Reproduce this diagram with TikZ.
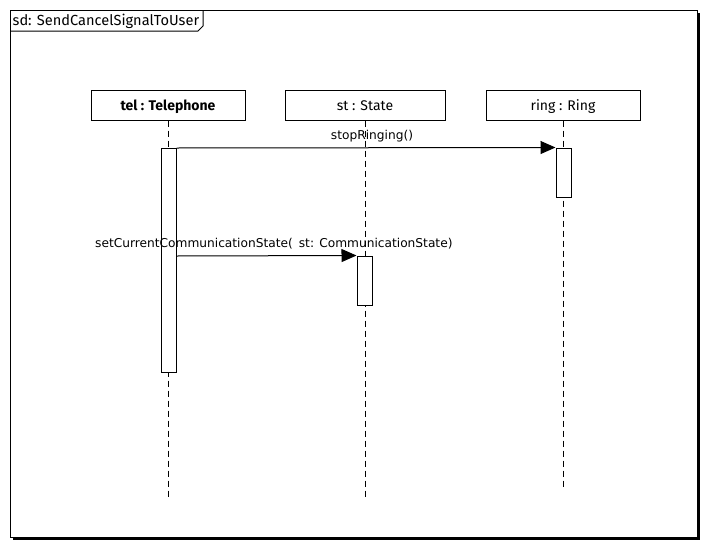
\documentclass[tikz,border=0pt]{standalone}
\usepackage{fontspec}
\setmainfont{DejaVu Sans}
\newfontfamily\headfont{Fira Sans}
\usetikzlibrary{arrows.meta}
\newcommand{\headtext}[1]{\raisebox{-5.5pt}[0pt][0pt]{#1}}
\begin{document}
\begin{tikzpicture}[x=1pt,y=-1pt,
  every node/.style={inner sep=0pt},
  headbox/.style={draw, line width=1pt, fill=white, minimum width=155pt, minimum height=30pt, font=\headfont\fontsize{14}{16}\selectfont},
  lifeline/.style={dashed, dash pattern=on 6pt off 4pt, line width=1pt},
  actbox/.style={draw, line width=1pt, fill=white},
  msg/.style={line width=1pt, -{Triangle[length=15pt,width=13pt]}},
  msglabel/.style={font=\fontsize{12.2}{14}\selectfont}]
\useasboundingbox (0,0) rectangle (709,549);
% frame with drop shadow
\fill (13,13) rectangle (700,540);
\draw[line width=1pt, fill=white] (10,10) rectangle (697,537);
% frame tab
\draw[line width=1pt] (10,31) -- (198,31) -- (203,26) -- (203,10);
\node[anchor=west, font=\headfont\fontsize{14.6}{16}\selectfont] (title) at (12.5,21) {sd: SendCancelSignalToUser};
% lifeline heads
\node[headbox, minimum width=154pt] (tel) at (168,105) {\headtext{\textbf{tel : Telephone}}};
\node[headbox, minimum width=160pt] (st) at (365,105) {\headtext{st : State}};
\node[headbox, minimum width=154pt] (ring) at (563,105) {\headtext{ring : Ring}};
% lifeline ends
\coordinate (telend) at (168,498);
\coordinate (stend) at (365,498);
\coordinate (ringend) at (563,488);
\draw[lifeline] (tel.south) -- (telend);
\draw[lifeline] (st.south) -- (stend);
\draw[lifeline] (ring.south) -- (ringend);
% activations
\node[actbox, minimum width=15pt, minimum height=224pt] (telact) at (168.5,260) {};
\node[actbox, minimum width=15pt, minimum height=49pt] (ringact) at (563.5,172.5) {};
\node[actbox, minimum width=15pt, minimum height=49pt] (stact) at (364.5,280.5) {};
% messages
\draw[msg] (telact.east |- 0,148) coordinate (m1s) -- (ringact.north west);
\node[msglabel, anchor=base] (m1) at (372,139) {stopRinging()};
\draw[msg] (telact.east |- 0,256) coordinate (m2s) -- (stact.north west);
\node[msglabel, anchor=base west] (m2) at (95,247) {setCurrentCommunicationState(\hspace{6pt}st: CommunicationState)};
\end{tikzpicture}
\end{document}
